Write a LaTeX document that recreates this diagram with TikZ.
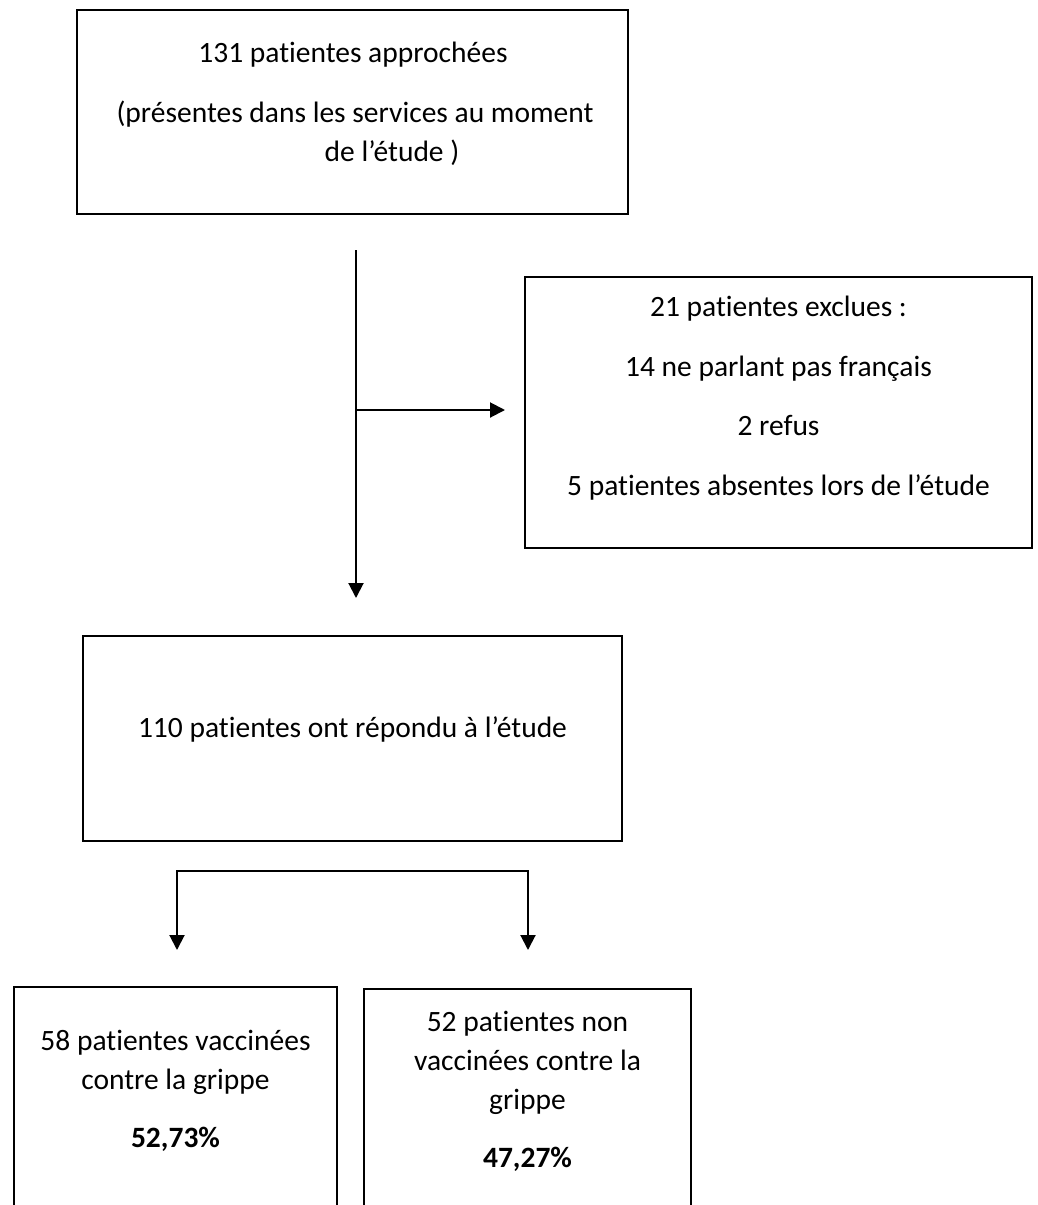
\documentclass[tikz,border=0pt]{standalone}
\usepackage{fontspec}
\setmainfont{Carlito}[Ligatures=NoCommon]
\usetikzlibrary{arrows.meta}
\begin{document}
\begin{tikzpicture}[x=1pt,y=-1pt,
  box/.style={draw, line width=2.4pt, inner sep=0pt},
  txt/.style={anchor=base, inner sep=0pt, font=\fontsize{29.5}{39}\selectfont},
  btxt/.style={txt, font=\fontsize{29.5}{39}\selectfont\bfseries},
  conn/.style={line width=2pt},
  tip/.tip={Triangle[width=15pt,length=15pt]},
  arr/.style={conn, -tip}]
\useasboundingbox (0,0) rectangle (1037,1205);
% boxes
\node[box, minimum width=551pt, minimum height=204pt] (b1) at (352.5,112) {};
\node[box, minimum width=507pt, minimum height=271pt] (b2) at (778.5,412.5) {};
\node[box, minimum width=539pt, minimum height=205pt] (b3) at (352.5,738.5) {};
\node[box, minimum width=323pt, minimum height=240pt] (b4) at (175.5,1107) {};
\node[box, minimum width=327pt, minimum height=238pt] (b5) at (527.5,1108) {};
% texts box 1
\node[txt] (t1a) at (353,62) {131 patientes approchées};
\node[txt] (t1b) at (355,122) {(présentes dans les services au moment};
\node[txt] (t1c) at (392,161) {de l’étude )};
% texts box 2
\node[txt] (t2a) at (778.5,316) {21 patientes exclues :};
\node[txt] (t2b) at (778.5,376) {14 ne parlant pas français};
\node[txt] (t2c) at (778.5,435) {2 refus};
\node[txt] (t2d) at (778.5,495) {5 patientes absentes lors de l’étude};
% text box 3
\node[txt] (t3) at (352.5,737) {110 patientes ont répondu à l’étude};
% texts box 4
\node[txt] (t4a) at (175.5,1050) {58 patientes vaccinées};
\node[txt] (t4b) at (175.5,1089) {contre la grippe};
\node[btxt] (t4c) at (175.5,1147) {52,73\%};
% texts box 5
\node[txt] (t5a) at (527.5,1031) {52 patientes non};
\node[txt] (t5b) at (527.5,1070) {vaccinées contre la};
\node[txt] (t5c) at (527.5,1109) {grippe};
\node[btxt] (t5d) at (527.5,1167) {47,27\%};
% connectors
\coordinate (v0) at (356,250);
\coordinate (v1) at (356,598);
\coordinate (h0) at (356,410);
\coordinate (h1) at (505,410);
\draw[arr] (v0) -- (v1);
\draw[arr] (h0) -- (h1);
\coordinate (bl) at (177,950);
\coordinate (bL) at (177,871);
\coordinate (bR) at (528,871);
\coordinate (br) at (528,950);
\draw[conn, tip-tip] (bl) -- (bL) -- (bR) -- (br);
\end{tikzpicture}
\end{document}
